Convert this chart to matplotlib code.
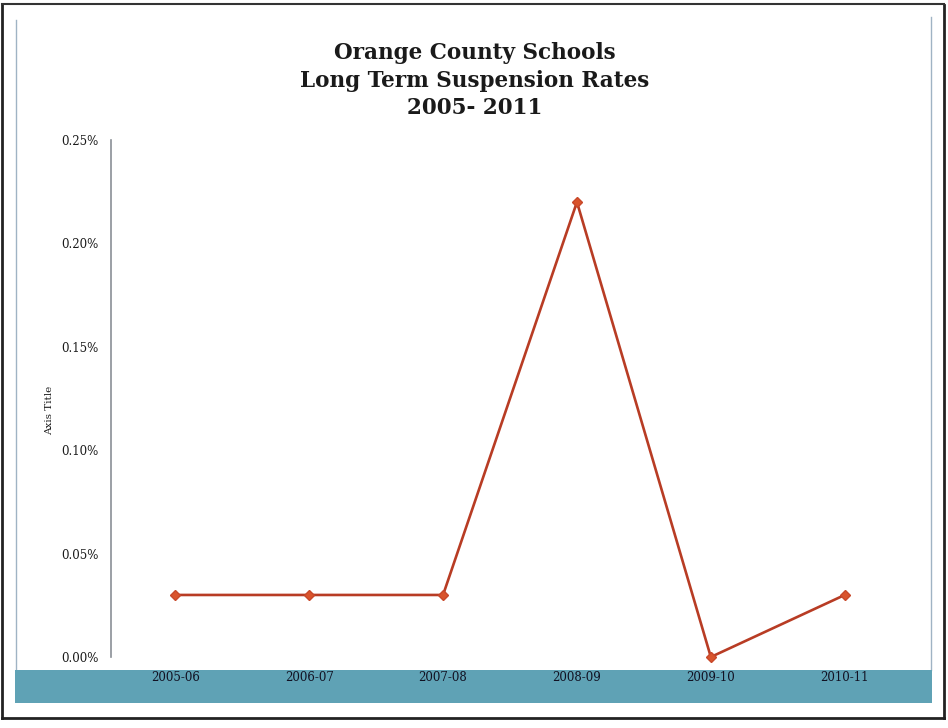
import matplotlib
matplotlib.use("Agg")
import matplotlib.pyplot as plt
from matplotlib.patches import Rectangle
from matplotlib.lines import Line2D
from matplotlib.ticker import FuncFormatter

years = ["2005-06", "2006-07", "2007-08", "2008-09", "2009-10", "2010-11"]
rates = [0.03, 0.03, 0.03, 0.22, 0.00, 0.03]  # percent
yticks = [0.00, 0.05, 0.10, 0.15, 0.20, 0.25]
title_lines = ["Orange County Schools", "Long Term Suspension Rates", "2005- 2011"]

plt.rcParams["font.family"] = ["DejaVu Serif"]

W, H = 948, 728
fig = plt.figure(figsize=(W / 100, H / 100), dpi=100)
fig.patch.set_facecolor("white")

def fx(px):
    return px / W

def fy(py):
    return 1 - py / H

# teal category band
fig.patches.append(Rectangle((fx(15), fy(703)), fx(932) - fx(15), fy(670) - fy(703),
                             transform=fig.transFigure, facecolor="#5fa2b5",
                             edgecolor="none", zorder=-5))
# inner light frame lines
fig.lines.append(Line2D([fx(16), fx(16)], [fy(670), fy(20)], transform=fig.transFigure,
                        color="#9fb3c4", lw=1.0, zorder=-5))
fig.lines.append(Line2D([fx(931), fx(931)], [fy(670), fy(17)], transform=fig.transFigure,
                        color="#9fb3c4", lw=1.0, zorder=-5))
# outer dark scan frame
fig.lines.append(Line2D([fx(2), fx(2)], [fy(718), fy(5)], transform=fig.transFigure,
                        color="#222222", lw=2.0, zorder=-5))
fig.lines.append(Line2D([fx(944), fx(944)], [fy(718), fy(5)], transform=fig.transFigure,
                        color="#222222", lw=2.0, zorder=-5))
fig.lines.append(Line2D([fx(2), fx(944)], [fy(4), fy(4)], transform=fig.transFigure,
                        color="#333333", lw=1.5, zorder=-5))
fig.lines.append(Line2D([fx(2), fx(944)], [fy(718), fy(718)], transform=fig.transFigure,
                        color="#222222", lw=2.0, zorder=-5))

ax = fig.add_axes([fx(111), fy(657), fx(909) - fx(111), fy(140) - fy(657)])
ax.set_zorder(2)
ax.set_facecolor("none")
x = list(range(len(years)))
ax.plot(x, rates, color="#b83c24", lw=1.9, marker="D", markersize=5.5,
        markerfacecolor="#d9542c", markeredgecolor="#c8482a", zorder=3, clip_on=False)

ax.set_xlim(-0.48, len(years) - 0.52)
ax.set_ylim(0, 0.25)
ax.set_yticks(yticks)
ax.yaxis.set_major_formatter(FuncFormatter(lambda v, p: f"{v:.2f}%"))
ax.set_xticks(x)
ax.set_xticklabels(years)

for s in ["top", "right", "bottom"]:
    ax.spines[s].set_visible(False)
ax.spines["left"].set_color("#8a8f96")
ax.spines["left"].set_linewidth(1.2)
ax.tick_params(axis="both", length=0)
ax.tick_params(axis="y", pad=9, labelsize=8.5, labelcolor="#1a1a1a")
ax.tick_params(axis="x", pad=10, labelsize=8.5, labelcolor="#111122")

fig.text(fx(50), fy(410), "Axis Title", rotation=90, ha="center", va="center",
         fontsize=7.5, color="#1a1a1a")

for line, py in zip(title_lines, [53, 81, 108]):
    fig.text(fx(475), fy(py), line, ha="center", va="center", fontsize=15.5,
             fontweight="bold", color="#1a1a1a")

fig.savefig("out.png", dpi=100, facecolor="white")
